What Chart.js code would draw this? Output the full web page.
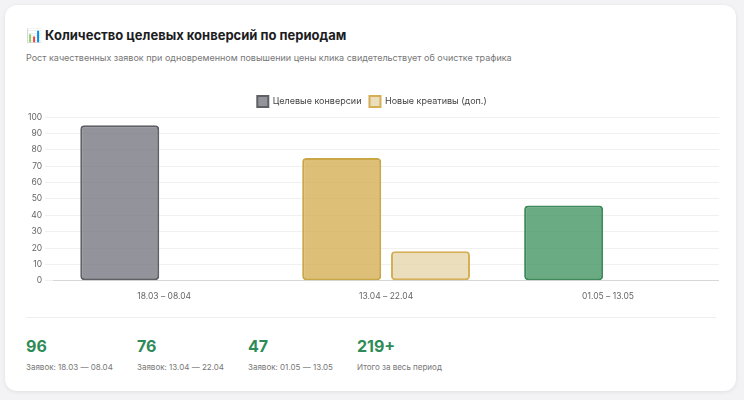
<!DOCTYPE html>
<html><head><meta charset="utf-8">
<script src="https://cdn.jsdelivr.net/npm/chart.js"></script>
<style>
body{margin:0;background:#f3f3f5;font-family:Inter,"Noto Sans",sans-serif;}
.card{position:absolute;left:5px;top:5px;width:731px;height:386px;background:#fff;border-radius:12px;box-shadow:0 1px 4px rgba(0,0,0,.08);}
h1{position:absolute;left:21px;top:22px;margin:0;font-size:13px;font-weight:700;color:#1d1d1f;}
.sub{position:absolute;left:21px;top:47px;font-size:9px;color:#777;}
.chart{position:absolute;left:20px;top:83px;width:694px;height:217px;}
.hr{position:absolute;left:21px;right:20px;top:312px;border-top:1px solid #eee;}
.stat{position:absolute;top:331px;}
.stat b{display:block;font-size:16px;color:#2e8b57;font-weight:700;}
.stat span{display:block;margin-top:6px;font-size:8px;color:#777;}
</style></head><body>
<div class="card">
<h1>📊 Количество целевых конверсий по периодам</h1>
<div class="sub">Рост качественных заявок при одновременном повышении цены клика свидетельствует об очистке трафика</div>
<div class="chart"><canvas id="c"></canvas></div>
<div class="hr"></div>
<div class="stat" style="left:21px"><b>96</b><span>Заявок: 18.03 — 08.04</span></div>
<div class="stat" style="left:132px"><b>76</b><span>Заявок: 13.04 — 22.04</span></div>
<div class="stat" style="left:243px"><b>47</b><span>Заявок: 01.05 — 13.05</span></div>
<div class="stat" style="left:352px"><b>219+</b><span>Итого за весь период</span></div>
</div>
<script>
// данные
const periods = ['18.03 – 08.04', '13.04 – 22.04', '01.05 – 13.05'];
const mainValues = [95, 75, 46];
const extraValues = [null, 18, null];

new Chart(document.getElementById('c'), {
    type: 'bar',
    data: {
        labels: periods,
        datasets: [{
            label: 'Целевые конверсии',
            data: mainValues,
            backgroundColor: ['rgba(120,120,130,0.8)', 'rgba(212,175,85,0.8)', 'rgba(70,150,100,0.8)'],
            borderColor: ['#5f5f66', '#c9a646', '#3f8a5a'],
            borderWidth: 2,
            borderRadius: 4,
            borderSkipped: false,
            barPercentage: 0.89
        }, {
            label: 'Новые креативы (доп.)',
            data: extraValues,
            backgroundColor: 'rgba(226,208,160,0.7)',
            borderColor: '#d4af55',
            borderWidth: 2,
            borderRadius: 4,
            borderSkipped: false,
            barPercentage: 0.89
        }]
    },
    options: {
        responsive: true,
        maintainAspectRatio: false,
        animation: false,
        plugins: {
            legend: {
                labels: { boxWidth: 11, boxHeight: 11, padding: 8, font: { size: 9, family: 'Inter' }, color: '#444' }
            }
        },
        scales: {
            y: {
                min: 0, max: 100,
                ticks: { stepSize: 10, font: { size: 8.5, family: 'Inter' }, color: '#666' },
                grid: { color: '#f0f0f0' },
                border: { display: false }
            },
            x: {
                ticks: { font: { size: 8.5, family: 'Inter' }, color: '#666' },
                grid: { display: false }
            }
        }
    }
});
</script>
</body></html>
